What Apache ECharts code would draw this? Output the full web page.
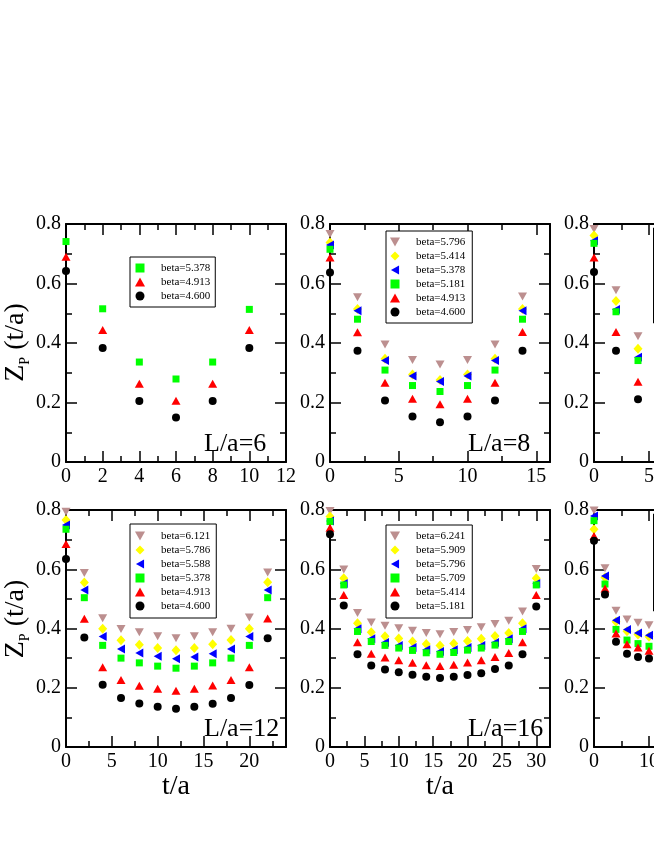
<!DOCTYPE html>
<html>
<head>
<meta charset="utf-8">
<script src="https://cdn.jsdelivr.net/npm/echarts@6/dist/echarts.min.js"></script>
<style>
html,body{margin:0;padding:0;background:#ffffff;}
#chart{width:654px;height:846px;}
</style>
</head>
<body>
<div id="chart"></div>
<script>
// ---------------- DATA ----------------
// L/a = 6
const t_L6 = [0, 2, 4, 6, 8, 10];
const L6_b5378 = [0.741, 0.515, 0.336, 0.279, 0.336, 0.513];
const L6_b4913 = [0.690, 0.444, 0.263, 0.206, 0.263, 0.444];
const L6_b4600 = [0.642, 0.383, 0.205, 0.150, 0.205, 0.383];

// L/a = 8
const t_L8 = [0, 2, 4, 6, 8, 10, 12, 14];
const L8_b5796 = [0.766, 0.554, 0.395, 0.343, 0.328, 0.343, 0.395, 0.556];
const L8_b5414 = [0.738, 0.514, 0.347, 0.294, 0.276, 0.294, 0.347, 0.514];
const L8_b5378 = [0.729, 0.508, 0.341, 0.289, 0.271, 0.289, 0.341, 0.508];
const L8_b5181 = [0.715, 0.480, 0.309, 0.257, 0.237, 0.257, 0.309, 0.480];
const L8_b4913 = [0.687, 0.436, 0.266, 0.213, 0.194, 0.213, 0.266, 0.437];
const L8_b4600 = [0.637, 0.374, 0.207, 0.153, 0.134, 0.153, 0.207, 0.374];

// third column, top (only the points inside the picture)
const t_L10 = [0, 2, 4];
const L10_s1 = [0.783, 0.577, 0.423];
const L10_s2 = [0.761, 0.541, 0.381];
const L10_s3 = [0.744, 0.513, 0.352];
const L10_s4 = [0.735, 0.505, 0.341];
const L10_s5 = [0.687, 0.437, 0.270];
const L10_s6 = [0.639, 0.374, 0.211];

// L/a = 12
const t_L12 = [0, 2, 4, 6, 8, 10, 12, 14, 16, 18, 20, 22];
const L12_b6121 = [0.794, 0.587, 0.435, 0.398, 0.387, 0.374, 0.367, 0.374, 0.387, 0.399, 0.437, 0.589];
const L12_b5786 = [0.766, 0.555, 0.399, 0.360, 0.345, 0.334, 0.327, 0.334, 0.347, 0.361, 0.399, 0.556];
const L12_b5588 = [0.749, 0.530, 0.373, 0.331, 0.317, 0.306, 0.298, 0.304, 0.315, 0.331, 0.373, 0.530];
const L12_b5378 = [0.735, 0.504, 0.343, 0.300, 0.284, 0.273, 0.266, 0.273, 0.284, 0.300, 0.343, 0.504];
const L12_b4913 = [0.685, 0.433, 0.269, 0.226, 0.207, 0.197, 0.190, 0.197, 0.208, 0.226, 0.269, 0.434];
const L12_b4600 = [0.635, 0.370, 0.210, 0.165, 0.147, 0.136, 0.129, 0.136, 0.146, 0.165, 0.209, 0.367];

// L/a = 16
const t_L16 = [0, 2, 4, 6, 8, 10, 12, 14, 16, 18, 20, 22, 24, 26, 28, 30];
const L16_b6241 = [0.797, 0.599, 0.452, 0.420, 0.409, 0.401, 0.392, 0.385, 0.381, 0.388, 0.395, 0.404, 0.415, 0.426, 0.457, 0.601];
const L16_b5909 = [0.778, 0.570, 0.418, 0.387, 0.374, 0.366, 0.356, 0.348, 0.343, 0.349, 0.358, 0.365, 0.375, 0.385, 0.418, 0.570];
const L16_b5796 = [0.763, 0.552, 0.399, 0.365, 0.353, 0.343, 0.336, 0.328, 0.322, 0.328, 0.336, 0.343, 0.353, 0.365, 0.399, 0.552];
const L16_b5709 = [0.761, 0.547, 0.390, 0.356, 0.343, 0.334, 0.326, 0.318, 0.313, 0.319, 0.327, 0.334, 0.344, 0.356, 0.390, 0.547];
const L16_b5414 = [0.740, 0.513, 0.354, 0.315, 0.302, 0.293, 0.284, 0.276, 0.273, 0.278, 0.285, 0.293, 0.304, 0.317, 0.354, 0.513];
const L16_b5181 = [0.718, 0.478, 0.313, 0.275, 0.262, 0.252, 0.244, 0.237, 0.233, 0.237, 0.243, 0.249, 0.263, 0.275, 0.313, 0.474];

// third column, bottom (only the points inside the picture)
const t_L20 = [0, 2, 4, 6, 8, 10];
const L20_s1 = [0.798, 0.603, 0.460, 0.430, 0.419, 0.411];
const L20_s2 = [0.735, 0.572, 0.423, 0.391, 0.380, 0.372];
const L20_s3 = [0.780, 0.577, 0.428, 0.397, 0.385, 0.377];
const L20_s4 = [0.764, 0.550, 0.397, 0.361, 0.349, 0.340];
const L20_s5 = [0.712, 0.535, 0.383, 0.347, 0.336, 0.325];
const L20_s6 = [0.696, 0.515, 0.355, 0.315, 0.304, 0.299];

// y-axis ticks
const yMin = 0, yMax = 0.8, yStep = 0.2, yMinorStep = 0.1;

// ---------------- PANELS ----------------
const panels = [
  {id: 'L/a=6', col: 0, row: 0, t: t_L6, xMax: 12, xStep: 2, xMinor: 1, legend: true,
   sets: [['beta=5.378', 'green', L6_b5378], ['beta=4.913', 'red', L6_b4913], ['beta=4.600', 'black', L6_b4600]]},
  {id: 'L/a=8', col: 1, row: 0, t: t_L8, xMax: 16, xStep: 5, xMinor: 2.5, legend: true,
   sets: [['beta=5.796', 'brown', L8_b5796], ['beta=5.414', 'yellow', L8_b5414], ['beta=5.378', 'blue', L8_b5378],
          ['beta=5.181', 'green', L8_b5181], ['beta=4.913', 'red', L8_b4913], ['beta=4.600', 'black', L8_b4600]]},
  {id: 'col3top', col: 2, row: 0, t: t_L10, xMax: 20, xStep: 5, xMinor: 2.5, legend: false,
   sets: [['s1', 'brown', L10_s1], ['s2', 'yellow', L10_s2], ['s3', 'blue', L10_s3],
          ['s4', 'green', L10_s4], ['s5', 'red', L10_s5], ['s6', 'black', L10_s6]]},
  {id: 'L/a=12', col: 0, row: 1, t: t_L12, xMax: 24, xStep: 5, xMinor: 2.5, legend: true,
   sets: [['beta=6.121', 'brown', L12_b6121], ['beta=5.786', 'yellow', L12_b5786], ['beta=5.588', 'blue', L12_b5588],
          ['beta=5.378', 'green', L12_b5378], ['beta=4.913', 'red', L12_b4913], ['beta=4.600', 'black', L12_b4600]]},
  {id: 'L/a=16', col: 1, row: 1, t: t_L16, xMax: 32, xStep: 5, xMinor: 2.5, legend: true,
   sets: [['beta=6.241', 'brown', L16_b6241], ['beta=5.909', 'yellow', L16_b5909], ['beta=5.796', 'blue', L16_b5796],
          ['beta=5.709', 'green', L16_b5709], ['beta=5.414', 'red', L16_b5414], ['beta=5.181', 'black', L16_b5181]]},
  {id: 'col3bot', col: 2, row: 1, t: t_L20, xMax: 40, xStep: 10, xMinor: 5, legend: false,
   sets: [['s1', 'brown', L20_s1], ['s2', 'yellow', L20_s2], ['s3', 'blue', L20_s3],
          ['s4', 'green', L20_s4], ['s5', 'red', L20_s5], ['s6', 'black', L20_s6]]}
];

// ---------------- LAYOUT & STYLE ----------------
const FONT = 'Liberation Serif';
const LAYOUT = {colLeft: [66, 330, 594], rowTop: [224, 510], width: 220, rowHeight: [238, 237]};
const LEGEND_POS = {
  'L/a=6':  {left: 130, top: 257, padding: [5, 5, 5, 5]},
  'L/a=8':  {left: 386, top: 231, padding: [5, 7, 5, 4]},
  'L/a=12': {left: 130, top: 524, padding: [6, 6, 6, 5]},
  'L/a=16': {left: 386, top: 525, padding: [5, 7, 6, 4]}
};
const LABEL_POS = {dx: 138, dyBase: [-5, -5]};
const KIND = {
  brown:  {color: '#bc8f8f', symbol: 'path://M0,0L10,0L5,9Z', size: [9, 8]},
  yellow: {color: '#ffff00', symbol: 'path://M5,0L10,5L5,10L0,5Z', size: [9, 10]},
  blue:   {color: '#0000ff', symbol: 'path://M9,0L9,10L0,5Z', size: [8, 9]},
  green:  {color: '#00ff00', symbol: 'path://M0,0L10,0L10,10L0,10Z', size: [7, 7]},
  red:    {color: '#ff0000', symbol: 'path://M5,0L10,9L0,9Z', size: [9, 8]},
  black:  {color: '#000000', symbol: 'circle', size: 8}
};

// ---------------- BUILD OPTION ----------------
const grid = [], xAxis = [], yAxis = [], series = [], legend = [], graphic = [];

function axisBase(gi, pos, min, max, interval, major, withLabel) {
  return {
    gridIndex: gi, type: 'value', position: pos, min: min, max: max, interval: interval,
    splitLine: {show: false},
    axisLine: {show: major, onZero: false, lineStyle: {color: '#000', width: 2}},
    axisTick: {show: true, inside: true, length: major ? 11 : 6, lineStyle: {color: '#000', width: 1.5}},
    minorTick: {show: false},
    axisLabel: {show: withLabel, fontSize: 20, fontFamily: FONT, color: '#000', margin: 5},
    silent: true
  };
}

panels.forEach(function (p, g) {
  const left = LAYOUT.colLeft[p.col], top = LAYOUT.rowTop[p.row];
  const h = LAYOUT.rowHeight[p.row];
  grid.push({left: left, top: top, width: LAYOUT.width, height: h, containLabel: false, outerBoundsMode: 'none'});

  const xb = axisBase(g, 'bottom', 0, p.xMax, p.xStep, true, true);
  xb.axisLabel.showMaxLabel = (p.xMax % p.xStep === 0);
  if (p.row === 1) {
    xb.name = 't/a'; xb.nameLocation = 'middle'; xb.nameGap = 26;
    xb.nameTextStyle = {fontSize: 28, fontFamily: FONT, color: '#000'};
  }
  xAxis.push(xb);
  xAxis.push(axisBase(g, 'top', 0, p.xMax, p.xStep, true, false));
  xAxis.push(axisBase(g, 'bottom', 0, p.xMax, p.xMinor, false, false));
  xAxis.push(axisBase(g, 'top', 0, p.xMax, p.xMinor, false, false));

  yAxis.push(axisBase(g, 'left', yMin, yMax, yStep, true, true));
  yAxis.push(axisBase(g, 'right', yMin, yMax, yStep, true, false));
  yAxis.push(axisBase(g, 'left', yMin, yMax, yMinorStep, false, false));
  yAxis.push(axisBase(g, 'right', yMin, yMax, yMinorStep, false, false));

  const names = [];
  p.sets.forEach(function (s) {
    const k = KIND[s[1]];
    const nm = p.id + '|' + s[0];
    names.push(nm);
    series.push({
      type: 'scatter', name: nm, xAxisIndex: 4 * g, yAxisIndex: 4 * g,
      data: p.t.map(function (x, i) { return [x, s[2][i]]; }),
      symbol: k.symbol, symbolSize: k.size,
      itemStyle: {color: k.color, opacity: 1},
      emphasis: {disabled: true}, silent: true, animation: false
    });
  });

  if (p.legend) {
    const lp = LEGEND_POS[p.id];
    legend.push({
      show: true, orient: 'vertical', left: lp.left, top: lp.top, padding: lp.padding,
      data: names, selectedMode: false, symbolKeepAspect: true,
      formatter: function (n) { return n.split('|')[1]; },
      itemWidth: 32, itemHeight: 9, itemGap: 2,
      borderColor: '#000', borderWidth: 1, backgroundColor: '#fff',
      textStyle: {fontFamily: FONT, fontSize: 11, color: '#000', lineHeight: 12}
    });
    graphic.push({
      type: 'text', x: left + LABEL_POS.dx, y: top + h + LABEL_POS.dyBase[p.row], z: 10,
      style: {text: p.id, fontSize: 26, fontFamily: FONT, fill: '#000', verticalAlign: 'bottom', align: 'left'}
    });
  } else {
    // legend box of the partly visible third column (its content lies outside the picture)
    graphic.push({
      type: 'rect', z: 10,
      shape: {x: left + 59.5, y: top + 4, width: 100, height: p.row === 0 ? 95 : 97},
      style: {fill: '#fff', stroke: '#000', lineWidth: 1}
    });
  }
});

// y-axis titles
[342.5, 619].forEach(function (cy) {
  graphic.push({
    type: 'text', x: 16, y: cy, rotation: Math.PI / 2, z: 10,
    style: {
      text: '{z|Z}{p|P}{t| (t/a)}', align: 'center', verticalAlign: 'middle', fill: '#000',
      rich: {
        z: {fontSize: 28, fontFamily: FONT, lineHeight: 32, verticalAlign: 'middle', fill: '#000'},
        p: {fontSize: 14, fontFamily: FONT, lineHeight: 16, verticalAlign: 'bottom', fill: '#000'},
        t: {fontSize: 28, fontFamily: FONT, lineHeight: 32, verticalAlign: 'middle', fill: '#000'}
      }
    }
  });
});

const chart = echarts.init(document.getElementById('chart'), null, {renderer: 'canvas'});
chart.setOption({
  animation: false,
  backgroundColor: '#ffffff',
  grid: grid, xAxis: xAxis, yAxis: yAxis, series: series, legend: legend, graphic: graphic,
  tooltip: {show: false}
});
</script>
</body>
</html>
